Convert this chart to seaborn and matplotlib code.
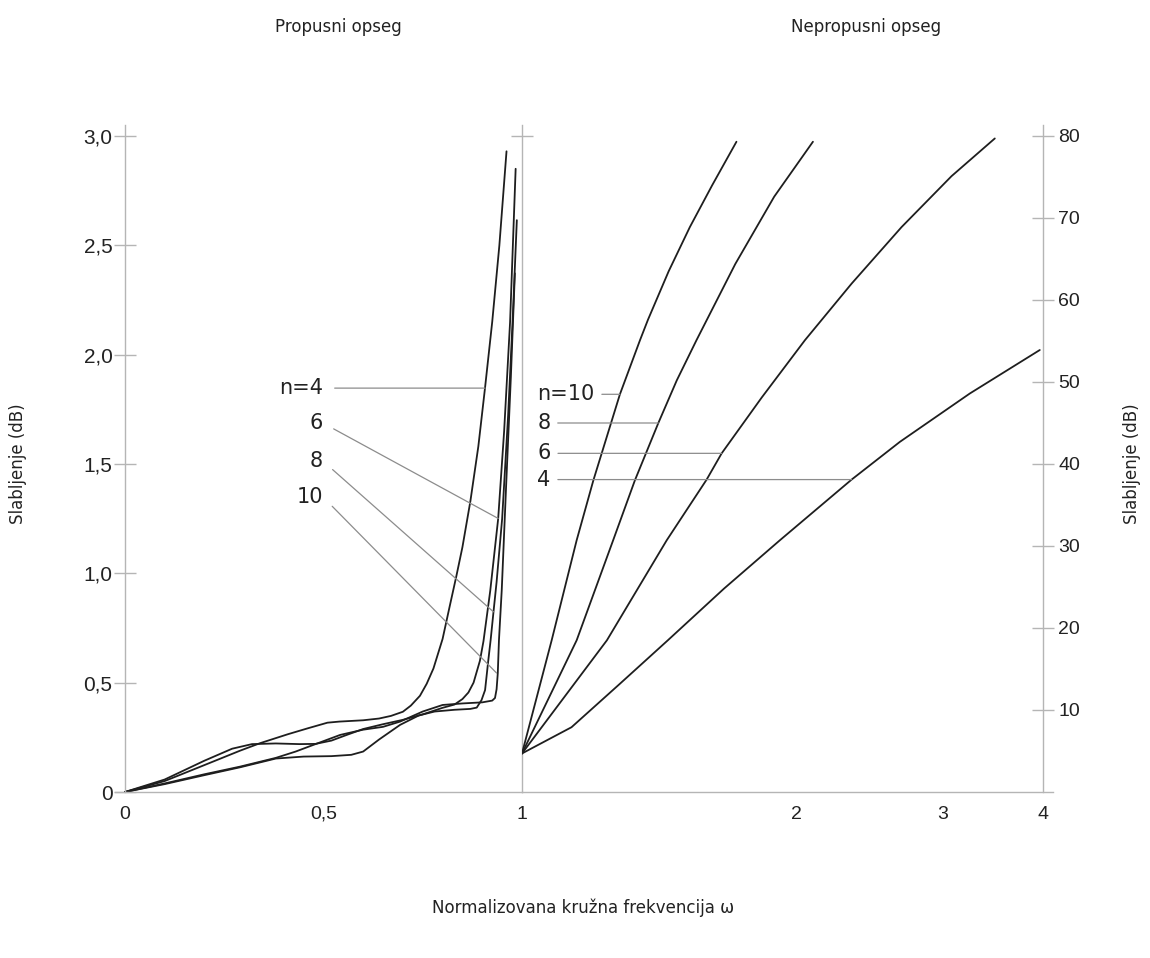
import numpy as np
import pandas as pd
import matplotlib
matplotlib.use('Agg')
import matplotlib.pyplot as plt
import seaborn as sns

# --- propusni opseg (passband): omega vs slabljenje [dB] ---
pb_w4 = [0, 0.10, 0.20, 0.29, 0.34, 0.41, 0.46, 0.51, 0.54, 0.60, 0.64, 0.67, 0.70, 0.72, 0.743,
         0.76, 0.777, 0.80, 0.818, 0.835, 0.85, 0.87, 0.89, 0.907, 0.925, 0.943, 0.961]
pb_a4 = [0, 0.050, 0.123, 0.189, 0.223, 0.264, 0.291, 0.317, 0.322, 0.328, 0.336, 0.348, 0.367, 0.395, 0.440,
         0.495, 0.565, 0.700, 0.850, 0.990, 1.120, 1.330, 1.580, 1.850, 2.150, 2.500, 2.930]
pb_w6 = [0, 0.10, 0.20, 0.27, 0.32, 0.38, 0.44, 0.48, 0.52, 0.56, 0.60, 0.65, 0.70, 0.75, 0.80, 0.83,
         0.85, 0.865, 0.878, 0.894, 0.903, 0.92, 0.94, 0.955, 0.97, 0.984]
pb_a6 = [0, 0.057, 0.143, 0.198, 0.219, 0.222, 0.219, 0.220, 0.235, 0.262, 0.288, 0.310, 0.330, 0.355, 0.385, 0.400,
         0.425, 0.455, 0.500, 0.600, 0.690, 0.920, 1.250, 1.650, 2.150, 2.850]
pb_w8 = [0, 0.10, 0.20, 0.29, 0.38, 0.45, 0.52, 0.57, 0.60, 0.64, 0.693, 0.74, 0.78, 0.83, 0.87, 0.886,
         0.898, 0.907, 0.915, 0.921, 0.928, 0.936, 0.95, 0.965, 0.977, 0.987]
pb_a8 = [0, 0.036, 0.077, 0.113, 0.153, 0.162, 0.164, 0.170, 0.185, 0.240, 0.307, 0.350, 0.368, 0.376, 0.380, 0.386,
         0.420, 0.466, 0.600, 0.695, 0.820, 0.960, 1.250, 1.720, 2.180, 2.615]
pb_w10 = [0, 0.10, 0.20, 0.29, 0.38, 0.43, 0.474, 0.542, 0.60, 0.65, 0.693, 0.75, 0.80, 0.85, 0.90, 0.925,
          0.932, 0.936, 0.939, 0.942, 0.949, 0.96, 0.972, 0.982]
pb_a10 = [0, 0.039, 0.081, 0.116, 0.156, 0.185, 0.215, 0.261, 0.285, 0.298, 0.322, 0.368, 0.398, 0.405, 0.410, 0.418,
          0.430, 0.470, 0.543, 0.695, 0.924, 1.400, 1.900, 2.372]

# --- nepropusni opseg (stopband) ---
sb_w4 = [1.0, 1.124, 1.265, 1.427, 1.650, 1.914, 2.327, 2.661, 3.243, 3.965]
sb_a4 = [4.7, 7.9, 13.2, 18.5, 24.8, 30.7, 38.1, 42.7, 48.6, 53.9]
sb_w6 = [1.0, 1.225, 1.423, 1.577, 1.640, 1.823, 2.048, 2.327, 2.674, 3.078, 3.483]
sb_a6 = [4.7, 18.5, 30.7, 38.1, 41.3, 48.1, 55.1, 62.0, 68.9, 75.1, 79.7]
sb_w8 = [1.0, 1.138, 1.244, 1.313, 1.393, 1.46, 1.536, 1.700, 1.885, 2.093]
sb_a8 = [4.7, 18.5, 30.7, 38.0, 45.0, 50.2, 55.1, 64.4, 72.6, 79.3]
sb_w10 = [1.0, 1.072, 1.138, 1.185, 1.265, 1.330, 1.357, 1.43, 1.510, 1.60, 1.705]
sb_a10 = [4.7, 18.5, 30.7, 38.0, 48.5, 55.1, 57.6, 63.5, 68.9, 74.0, 79.3]

orders = [4, 6, 8, 10]
pb_curves = {4: (pb_w4, pb_a4), 6: (pb_w6, pb_a6), 8: (pb_w8, pb_a8), 10: (pb_w10, pb_a10)}
sb_curves = {4: (sb_w4, sb_a4), 6: (sb_w6, sb_a6), 8: (sb_w8, sb_a8), 10: (sb_w10, sb_a10)}

# label placement: (text position, point on curve)
pb_labels = ['n=4', '6', '8', '10']
pb_label_y = [1.847, 1.687, 1.513, 1.349]
pb_targets = [(0.907, 1.847), (0.940, 1.251), (0.928, 0.824), (0.936, 0.544)]
sb_labels = ['n=10', '8', '6', '4']
sb_label_y = [48.5, 45.0, 41.3, 38.1]
sb_targets = [(1.265, 48.5), (1.393, 45.0), (1.640, 41.3), (2.327, 38.1)]

left_yticks = [0, 0.5, 1.0, 1.5, 2.0, 2.5, 3.0]
left_yticklabels = ['0', '0,5', '1,0', '1,5', '2,0', '2,5', '3,0']
left_xticks = [0, 0.5, 1]
left_xticklabels = ['0', '0,5', '1']
right_xticks = [2, 3, 4]
right_yticks = [10, 20, 30, 40, 50, 60, 70, 80]

sns.set_style('white')
plt.rcParams['font.family'] = ['Liberation Sans', 'DejaVu Sans']

GRAY = '#b5b5b5'
LEAD = '#8c8c8c'
INK = '#1e1e1e'
TXT = 'DejaVu Sans'

fig = plt.figure(figsize=(11.5, 9.58), dpi=100)
ax_l = fig.add_axes([115 / 1150, 1 - 792 / 958, 407 / 1150, 667 / 958])
ax_r = fig.add_axes([522 / 1150, 1 - 792 / 958, 531 / 1150, 667 / 958])
ax_r.patch.set_visible(False)

for n in orders:
    w, a = pb_curves[n]
    sns.lineplot(x=w, y=a, ax=ax_l, color=INK, lw=1.3, sort=False)
    w, a = sb_curves[n]
    sns.lineplot(x=w, y=a, ax=ax_r, color=INK, lw=1.3, sort=False)

# stopband frequency axis is compressed toward high omega
def fwd(x):
    return np.log(np.maximum(np.asarray(x, dtype=float) - 0.25, 1e-9))

def inv(y):
    return np.exp(y) + 0.25

ax_r.set_xscale('function', functions=(fwd, inv))

ax_l.set_xlim(-0.025, 1.0)
ax_l.set_ylim(0, 3.0 * 667 / 656)
ax_r.set_xlim(1.0, 4.12)
ax_r.set_ylim(0, 80 * 667 / 656)

# left axes frame
ax_l.spines['top'].set_visible(False)
ax_l.spines['left'].set_position(('data', 0))
for s in ['left', 'bottom', 'right']:
    ax_l.spines[s].set_color(GRAY)
    ax_l.spines[s].set_linewidth(1.0)
ax_l.set_xticks(left_xticks)
ax_l.set_xticklabels(left_xticklabels)
ax_l.set_xticks([0.1, 0.2, 0.3, 0.4, 0.6, 0.7, 0.8, 0.9], minor=True)
ax_l.set_yticks(left_yticks)
ax_l.set_yticklabels(left_yticklabels)
ax_l.tick_params(axis='both', which='both', direction='inout', length=16, width=1.0,
                 color=GRAY, labelsize=14, labelcolor='#222222')
ax_l.tick_params(axis='x', which='major', pad=2)
ax_l.tick_params(axis='y', which='major', pad=1, left=True, labelsize=15)
ax_l.set_xlabel('')
ax_l.set_ylabel('')

# '+' mark on the omega=1 line
sec = ax_l.secondary_yaxis('right')
sec.set_yticks([3.0])
sec.set_yticklabels([''])
sec.tick_params(direction='inout', length=16, width=1.0, color=GRAY)
sec.spines['right'].set_visible(False)

# right axes frame
ax_r.spines['top'].set_visible(False)
ax_r.spines['left'].set_visible(False)
ax_r.spines['right'].set_position(('data', 4))
for s in ['bottom', 'right']:
    ax_r.spines[s].set_color(GRAY)
    ax_r.spines[s].set_linewidth(1.0)
ax_r.set_xticks(right_xticks)
ax_r.set_xticklabels([str(t) for t in right_xticks])
ax_r.xaxis.set_minor_locator(matplotlib.ticker.NullLocator())
ax_r.yaxis.tick_right()
ax_r.set_yticks(right_yticks)
ax_r.set_yticklabels([str(t) for t in right_yticks])
ax_r.tick_params(axis='both', which='both', direction='inout', length=16, width=1.0,
                 color=GRAY, labelsize=14, labelcolor='#222222')
ax_r.tick_params(axis='x', pad=2)
ax_r.tick_params(axis='y', pad=3, left=False, right=True)
ax_r.set_xlabel('')
ax_r.set_ylabel('')

# curve labels with leader lines
for lab, ty, tgt in zip(pb_labels, pb_label_y, pb_targets):
    ax_l.annotate(lab, xy=tgt, xytext=(0.499, ty), ha='right', va='center',
                  fontsize=15, family=TXT, color='#222222',
                  arrowprops=dict(arrowstyle='-', color=LEAD, lw=0.9,
                                  shrinkA=6, shrinkB=0, relpos=(1, 0.5)))
for lab, ty, tgt in zip(sb_labels, sb_label_y, sb_targets):
    ax_r.annotate(lab, xy=tgt, xytext=(1.036, ty), ha='left', va='center',
                  fontsize=15, family=TXT, color='#222222',
                  arrowprops=dict(arrowstyle='-', color=LEAD, lw=0.9,
                                  shrinkA=3, shrinkB=0, relpos=(1, 0.5)))

fig.text(338 / 1150, 1 - 27 / 958, 'Propusni opseg', ha='center', va='center',
         fontsize=12, family=TXT, color='#222222')
fig.text(866 / 1150, 1 - 27 / 958, 'Nepropusni opseg', ha='center', va='center',
         fontsize=12, family=TXT, color='#222222')
fig.text(583 / 1150, 1 - 908 / 958, 'Normalizovana kružna frekvencija ω', ha='center', va='center',
         fontsize=12, family=TXT, color='#222222')
fig.text(18 / 1150, 1 - 464 / 958, 'Slabljenje (dB)', ha='center', va='center', rotation=90,
         fontsize=12, family=TXT, color='#222222')
fig.text(1132 / 1150, 1 - 464 / 958, 'Slabljenje (dB)', ha='center', va='center', rotation=90,
         fontsize=12, family=TXT, color='#222222')

fig.savefig('out.png', dpi=100)
